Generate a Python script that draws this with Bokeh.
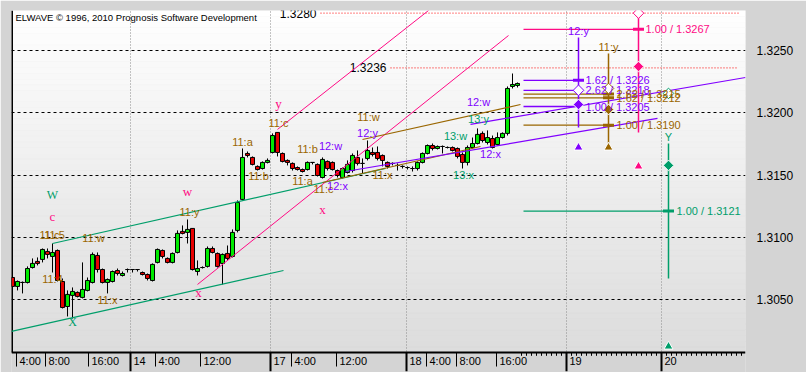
import numpy as np
from bokeh.plotting import figure
from bokeh.models import ColumnDataSource, FixedTicker, NumeralTickFormatter, Range1d
from bokeh.core.properties import value
from bokeh.embed import file_html
from bokeh.resources import INLINE

FONT = "Liberation Sans"
SERIF = "Liberation Serif"

# ---------------- candle data (bar index, hourly bars) ----------------
opens = [1.30677, 1.30605, 1.30637, 1.30637, 1.30757, 1.30806, 1.30822, 1.30886, 1.30846, 1.30894,
         1.30645, 1.30444, 1.30533, 1.30557, 1.30517, 1.30573, 1.30637, 1.30854, 1.30741, 1.30637,
         1.30645, 1.30733, 1.30693, 1.30741, 1.30741, 1.30741, 1.30717, 1.30701, 1.30653, 1.30798,
         1.30894, 1.30830, 1.30798, 1.30878, 1.31047, 1.31039, 1.31071, 1.30725, 1.30757, 1.30766,
         1.30910, 1.30870, 1.30790, 1.30870, 1.30846, 1.31055, 1.31304, 1.31673, 1.31641, 1.31569,
         1.31552, 1.31601, 1.31681, 1.31842, 1.31673, 1.31617, 1.31593, 1.31560, 1.31544, 1.31544,
         1.31601, 1.31585, 1.31480, 1.31609, 1.31601, 1.31536, 1.31480, 1.31520, 1.31536, 1.31641,
         1.31593, 1.31633, 1.31681, 1.31681, 1.31657, 1.31601, 1.31593, 1.31577, 1.31569, 1.31560,
         1.31552, 1.31552, 1.31601, 1.31673, 1.31737, 1.31713, 1.31729, 1.31721, 1.31721, 1.31713,
         1.31665, 1.31601, 1.31721, 1.31753, 1.31834, 1.31761, 1.31793, 1.31745, 1.31801, 1.31834,
         1.32211, 1.32219]
highs = [1.30685, 1.30653, 1.30645, 1.30766, 1.30830, 1.30838, 1.30910, 1.30910, 1.30950, 1.30902,
         1.30669, 1.30573, 1.30597, 1.30565, 1.30798, 1.30677, 1.30878, 1.30878, 1.30749, 1.30669,
         1.30733, 1.30749, 1.30725, 1.30749, 1.30741, 1.30741, 1.30725, 1.30709, 1.30790, 1.30910,
         1.30902, 1.30838, 1.30878, 1.31055, 1.31095, 1.31143, 1.31071, 1.30814, 1.30766, 1.30926,
         1.30926, 1.30878, 1.30870, 1.30934, 1.31063, 1.31296, 1.31713, 1.31689, 1.31649, 1.31577,
         1.31609, 1.31633, 1.31834, 1.31842, 1.31681, 1.31625, 1.31601, 1.31569, 1.31552, 1.31609,
         1.31601, 1.31593, 1.31641, 1.31617, 1.31609, 1.31544, 1.31560, 1.31617, 1.31673, 1.31697,
         1.31633, 1.31777, 1.31721, 1.31729, 1.31665, 1.31609, 1.31601, 1.31593, 1.31577, 1.31569,
         1.31569, 1.31609, 1.31681, 1.31745, 1.31753, 1.31737, 1.31737, 1.31729, 1.31729, 1.31721,
         1.31681, 1.31737, 1.31801, 1.31874, 1.31850, 1.31858, 1.31817, 1.31842, 1.31842, 1.32211,
         1.32315, 1.32243]
lows = [1.30573, 1.30573, 1.30549, 1.30629, 1.30749, 1.30774, 1.30798, 1.30830, 1.30717, 1.30645,
        1.30428, 1.30364, 1.30348, 1.30517, 1.30509, 1.30565, 1.30629, 1.30717, 1.30629, 1.30549,
        1.30637, 1.30693, 1.30685, 1.30717, 1.30717, 1.30725, 1.30693, 1.30653, 1.30645, 1.30790,
        1.30830, 1.30790, 1.30790, 1.30870, 1.31023, 1.30950, 1.30733, 1.30693, 1.30749, 1.30757,
        1.30870, 1.30757, 1.30621, 1.30814, 1.30838, 1.31039, 1.31296, 1.31641, 1.31577, 1.31536,
        1.31544, 1.31593, 1.31673, 1.31649, 1.31601, 1.31577, 1.31536, 1.31536, 1.31520, 1.31536,
        1.31585, 1.31488, 1.31472, 1.31536, 1.31536, 1.31480, 1.31472, 1.31512, 1.31520, 1.31577,
        1.31512, 1.31617, 1.31649, 1.31617, 1.31569, 1.31552, 1.31577, 1.31536, 1.31552, 1.31544,
        1.31528, 1.31536, 1.31593, 1.31665, 1.31697, 1.31705, 1.31673, 1.31713, 1.31689, 1.31633,
        1.31552, 1.31577, 1.31713, 1.31745, 1.31761, 1.31745, 1.31713, 1.31737, 1.31793, 1.31817,
        1.32195, 1.32203]
closes = [1.30605, 1.30645, 1.30637, 1.30749, 1.30790, 1.30790, 1.30902, 1.30862, 1.30878, 1.30653,
          1.30436, 1.30541, 1.30565, 1.30525, 1.30581, 1.30653, 1.30862, 1.30741, 1.30637, 1.30661,
          1.30725, 1.30709, 1.30709, 1.30741, 1.30741, 1.30741, 1.30701, 1.30669, 1.30782, 1.30902,
          1.30846, 1.30798, 1.30870, 1.31031, 1.31031, 1.31063, 1.30741, 1.30749, 1.30757, 1.30910,
          1.30878, 1.30766, 1.30862, 1.30830, 1.31039, 1.31279, 1.31641, 1.31657, 1.31585, 1.31544,
          1.31601, 1.31617, 1.31817, 1.31681, 1.31609, 1.31601, 1.31552, 1.31544, 1.31528, 1.31601,
          1.31601, 1.31496, 1.31625, 1.31552, 1.31544, 1.31496, 1.31552, 1.31585, 1.31657, 1.31593,
          1.31593, 1.31697, 1.31665, 1.31633, 1.31617, 1.31569, 1.31593, 1.31577, 1.31569, 1.31560,
          1.31552, 1.31601, 1.31673, 1.31737, 1.31713, 1.31729, 1.31729, 1.31721, 1.31697, 1.31649,
          1.31601, 1.31721, 1.31753, 1.31826, 1.31777, 1.31801, 1.31721, 1.31801, 1.31834, 1.32195,
          1.32227, 1.32235]
bar_index = list(range(len(opens)))

# ---------------- axes ----------------
price_ticks = [1.3050, 1.3100, 1.3150, 1.3200, 1.3250]
time_tick_pos = [0.8, 6.6, 15.2, 23.6, 28.6, 37.6, 51.6, 55.8, 64.8, 78.8, 82.8, 88.8, 96.8, 110.8, 129.8]
time_tick_labels = ["4:00", "8:00", "16:00", "14", "4:00", "12:00", "17", "4:00", "12:00",
                    "18", "4:00", "8:00", "16:00", "19", "20"]
day_separators = [23.6, 51.6, 78.8, 110.8, 129.8]
future_ticks = [k + 0.8 for k in range(101, 146) if k not in (110, 129)]

# ---------------- trend / channel lines (bar index, price) ----------------
green_x0 = [-0.2, 8.0];   green_y0 = [1.30244, 1.30950]
green_x1 = [54.2, 74.6];  green_y1 = [1.30733, 1.31552]
pink_x0 = [37.0, 53.0];   pink_y0 = [1.30621, 1.31866]
pink_x1 = [99.2, 83.2];   pink_y1 = [1.32620, 1.32821]
brown_x0 = [70.0, 62.0];  brown_y0 = [1.31785, 1.31440]
brown_x1 = [101.6, 93.6]; brown_y1 = [1.32066, 1.31729]
purple_x0 = [66.6, 91.6]; purple_y0 = [1.31528, 1.31906]
purple_x1 = [129.0, 146.6]; purple_y1 = [1.31954, 1.32283]

# reference price lines
ref_levels = [1.3280, 1.3236]
ref_start = [61.6, 75.6]
ref_end = 145.2
ref_text = ["1.3280", "1.3236"]

# ---------------- projection targets ----------------
proj_start = 102.2
purple_col, brown_col, pink_col, green_col = 113.2, 119.2, 125.2, 131.2
purple_levels = [1.3226, 1.3218, 1.3205]
purple_text = ["1.62 / 1.3226", "2.62 / 1.3218", "1.00 / 1.3205"]
brown_levels = [1.3215, 1.3212, 1.3190]
brown_text = ["2.62 / 1.3215", "1.62 / 1.3212", "1.00 / 1.3190"]
pink_levels = [1.3267]
pink_text = ["1.00 / 1.3267"]
green_levels = [1.3121]
green_text = ["1.00 / 1.3121"]

col_x = [purple_col, brown_col, pink_col, green_col]
col_top = [1.32604, 1.32476, 1.32797, 1.31753]
col_bottom = [1.31882, 1.31753, 1.31842, 1.30669]
hollow_y = [1.3218, 1.32195, 1.3280, 1.32155]
filled_y = [1.32066, 1.32026, 1.32371, 1.31577]
triangle_y = [1.31721, 1.31721, 1.31569, 1.30123]
col_label = ["12:y", "11:y", "", "Y"]
col_label_y = [1.32653, 1.32524, 1.3280, 1.31809]

# ---------------- wave labels ----------------
brown_wave_text = ["11:c", "11:5", "11:w", "11:4", "11:x", "11:y", "11:a", "11:b", "11:c",
                   "11:b", "11:a", "11:c", "11:w", "11:x"]
brown_wave_x = [7.4, 8.4, 16.2, 8.0, 19.0, 35.4, 46.0, 49.2, 53.2, 59.0, 58.0, 62.2, 71.2, 74.0]
brown_wave_y = [1.31015, 1.31015, 1.30998, 1.30661, 1.30493, 1.31199, 1.31761, 1.31488, 1.31914,
                1.31705, 1.31448, 1.31384, 1.31962, 1.31496]
purple_wave_text = ["12:w", "12:x", "12:y", "12:w", "12:x"]
purple_wave_x = [63.6, 65.0, 71.0, 93.2, 95.6]
purple_wave_y = [1.31729, 1.31408, 1.31834, 1.32090, 1.31665]
green_wave_text = ["13:w", "13:y", "13:x"]
green_wave_x = [88.6, 93.2, 90.2]
green_wave_y = [1.31810, 1.31946, 1.31496]
green_big_text = ["W", "X"]
green_big_x = [8.0, 12.0]
green_big_y = [1.31336, 1.30316]
pink_big_text = ["y", "w", "c", "x", "x"]
pink_big_x = [53.2, 35.0, 8.0, 37.2, 62.0]
pink_big_y = [1.32074, 1.31368, 1.31167, 1.30557, 1.31223]

# ---------------- colours ----------------
C_GREEN = "#009e6a"
C_PINK = "#ff0a84"
C_PURPLE = "#8000ff"
C_BROWN = "#9a6600"
C_RED = "#ff0000"
C_UP = "#00ea00"
C_DOWN = "#e60000"
C_PANEL = "#d4d4d4"

x_start, x_end = -0.2, 146.6
y_axis_line = 1.30074           # price at the time-axis line
y_canvas_bottom, y_top = 1.29914, 1.32821
tick_len_hour, tick_len_day, tick_len_small = 0.00112, 0.00150, 0.00026
label_y = 1.30005

p = figure(width=806, height=372, output_backend="svg", toolbar_location=None,
           x_range=Range1d(x_start, x_end), y_range=Range1d(y_canvas_bottom, y_top),
           y_axis_location="right", x_axis_location=None,
           min_border_left=11, min_border_right=61, min_border_top=10, min_border_bottom=0)
p.border_fill_color = C_PANEL
p.outline_line_color = None
p.background_fill_color = C_PANEL

# gradient background of the price pane
n_bands = 60
edges = np.linspace(y_axis_line, y_top, n_bands + 1)
shades = np.linspace(221, 255, n_bands)
band_colors = ["#%02x%02x%02x" % (int(s), int(s), int(s)) for s in shades]
bg = p.quad(left=x_start, right=x_end, bottom=edges[:-1], top=edges[1:],
            fill_color=band_colors, line_color=band_colors, line_width=0.5)
bg.level = "image"

# grids
p.ygrid.ticker = FixedTicker(ticks=price_ticks)
p.ygrid.grid_line_color = "black"
p.ygrid.grid_line_dash = "3 3"
p.ygrid.grid_line_width = 1
p.xgrid.ticker = FixedTicker(ticks=day_separators)
p.xgrid.grid_line_color = "#8a8a8a"
p.xgrid.grid_line_dash = "1 2"
p.xgrid.grid_line_width = 1

# price axis on the right
p.yaxis.ticker = FixedTicker(ticks=price_ticks)
p.yaxis.formatter = NumeralTickFormatter(format="0.0000")
p.yaxis.major_tick_line_color = None
p.yaxis.minor_tick_line_color = None
p.yaxis.axis_line_color = None
p.yaxis.major_label_text_font = FONT
p.yaxis.major_label_text_font_size = "12px"
p.yaxis.major_label_text_color = "black"
p.yaxis.major_label_standoff = 5

# time axis strip (drawn in data space below the price pane)
p.quad(left=[x_start], right=[x_end], bottom=[y_canvas_bottom], top=[y_axis_line],
       fill_color=C_PANEL, line_color=None)
p.segment(x0=time_tick_pos, y0=[y_axis_line] * len(time_tick_pos),
          x1=time_tick_pos, y1=[y_axis_line - tick_len_hour] * len(time_tick_pos),
          line_color="black", line_width=1)
p.segment(x0=day_separators, y0=[y_axis_line] * len(day_separators),
          x1=day_separators, y1=[y_axis_line - tick_len_day] * len(day_separators),
          line_color="black", line_width=2)
p.segment(x0=future_ticks, y0=[y_axis_line] * len(future_ticks),
          x1=future_ticks, y1=[y_axis_line - tick_len_small] * len(future_ticks),
          line_color="black", line_width=1)
p.segment(x0=[x_start], y0=[y_axis_line], x1=[x_end], y1=[y_axis_line],
          line_color="black", line_width=2)
p.text(x=time_tick_pos, y=[label_y] * len(time_tick_pos), text=time_tick_labels,
       x_offset=3, text_font=value(FONT), text_font_size="11px", text_color="black",
       text_align="left", text_baseline="middle")

# left frame line
p.segment(x0=[x_start], y0=[y_axis_line], x1=[x_start], y1=[y_top], line_color="black", line_width=3)

# reference dotted lines
p.segment(x0=ref_start, y0=ref_levels, x1=[ref_end] * len(ref_levels), y1=ref_levels,
          line_color=C_RED, line_dash="1 2", line_width=1)
p.text(x=[s - 0.8 for s in ref_start], y=ref_levels, text=ref_text, text_font=value(FONT),
       text_font_size="12px", text_color="black", text_align="right", text_baseline="middle")

# candles
src = ColumnDataSource(dict(
    x=bar_index, o=opens, h=highs, l=lows, c=closes,
    top=[max(o, c) for o, c in zip(opens, closes)],
    bottom=[min(o, c) for o, c in zip(opens, closes)],
    color=[C_UP if c > o else C_DOWN for o, c in zip(opens, closes)],
))
p.segment(x0="x", y0="l", x1="x", y1="h", source=src, line_color="black", line_width=1)
p.vbar(x="x", width=0.8, top="top", bottom="bottom", source=src,
       fill_color="color", line_color="black", line_width=1)

# channel lines
p.segment(x0=green_x0, y0=green_y0, x1=green_x1, y1=green_y1, line_color=C_GREEN, line_width=1.2)
p.segment(x0=pink_x0, y0=pink_y0, x1=pink_x1, y1=pink_y1, line_color=C_PINK, line_width=1)
p.segment(x0=brown_x0, y0=brown_y0, x1=brown_x1, y1=brown_y1, line_color=C_BROWN, line_width=1.2)
p.segment(x0=purple_x0, y0=purple_y0, x1=purple_x1, y1=purple_y1, line_color=C_PURPLE, line_width=1.2)

# projection horizontals
def hlines(levels, col, color):
    p.segment(x0=[proj_start] * len(levels), y0=levels, x1=[col] * len(levels), y1=levels,
              line_color=color, line_width=1.3)

hlines(purple_levels, purple_col, C_PURPLE)
hlines(brown_levels, brown_col, C_BROWN)
hlines(pink_levels, pink_col, C_PINK)
hlines(green_levels, green_col, C_GREEN)

col_colors = [C_PURPLE, C_BROWN, C_PINK, C_GREEN]
p.segment(x0=col_x, y0=col_bottom, x1=col_x, y1=col_top, line_color=col_colors, line_width=1.5)

# target ticks
for levels, col, color in [(purple_levels[:1], purple_col, C_PURPLE),
                           (brown_levels, brown_col, C_BROWN),
                           (pink_levels, pink_col, C_PINK),
                           (green_levels, green_col, C_GREEN)]:
    p.scatter(x=[col] * len(levels), y=levels, marker="dash", size=11, line_width=3, line_color=color)

p.scatter(x=col_x, y=hollow_y, marker="square", angle=np.pi / 4, size=7.5,
          fill_color="white", line_color=col_colors, line_width=1)
p.scatter(x=col_x, y=filled_y, marker="square", angle=np.pi / 4, size=7.5,
          fill_color=col_colors, line_color="white", line_width=1)
p.scatter(x=col_x, y=triangle_y, marker="triangle", size=9,
          fill_color=col_colors, line_color="white", line_width=1)

p.text(x=col_x, y=col_label_y, text=col_label, text_color=col_colors, text_font=value(FONT),
       text_font_size="11px", text_align="center", text_baseline="middle")

# target labels
def tlabels(levels, texts, col, color, dx):
    p.text(x=[col + dx] * len(levels), y=levels, text=texts, text_color=color, text_font=value(FONT),
           text_font_size="11px", text_align="left", text_baseline="middle")

tlabels(purple_levels, purple_text, purple_col, C_PURPLE, 1.4)
tlabels(brown_levels, brown_text, brown_col, C_BROWN, 1.6)
tlabels(pink_levels, pink_text, pink_col, C_PINK, 1.4)
tlabels(green_levels, green_text, green_col, C_GREEN, 1.6)

# wave labels
def wl(xs, ys, texts, color, font, size):
    p.text(x=xs, y=ys, text=texts, text_color=color, text_font=value(font),
           text_font_size=size, text_align="center", text_baseline="middle")

wl(brown_wave_x, brown_wave_y, brown_wave_text, C_BROWN, FONT, "11px")
wl(purple_wave_x, purple_wave_y, purple_wave_text, C_PURPLE, FONT, "11px")
wl(green_wave_x, green_wave_y, green_wave_text, C_GREEN, FONT, "11px")
wl(green_big_x, green_big_y, green_big_text, C_GREEN, SERIF, "12px")
wl(pink_big_x, pink_big_y, pink_big_text, C_PINK, SERIF, "13px")

# copyright caption
p.text(x=[0.6], y=[1.32765], text=["ELWAVE \u00a9 1996, 2010 Prognosis Software Development"],
       text_font=value(FONT), text_font_size="9.5px", text_color="black",
       text_align="left", text_baseline="middle")

open("out.html", "w").write(file_html(p, INLINE))
